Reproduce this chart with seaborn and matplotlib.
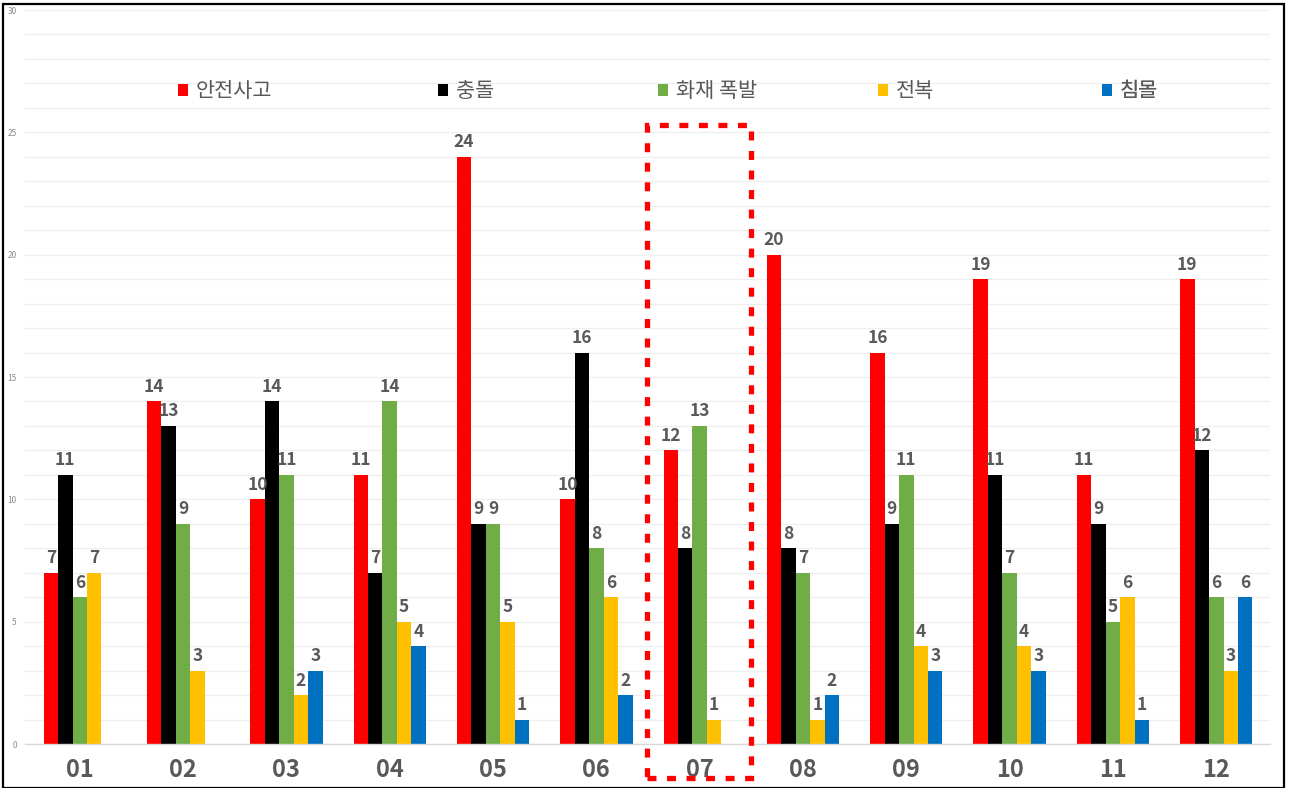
import matplotlib
matplotlib.use('Agg')
import matplotlib.pyplot as plt
import seaborn as sns
import pandas as pd
from matplotlib.patches import Rectangle
from matplotlib.ticker import MultipleLocator

months = ['01', '02', '03', '04', '05', '06', '07', '08', '09', '10', '11', '12']
series = ['안전사고', '충돌', '화재 폭발', '전복', '침몰']
safety = [7, 14, 10, 11, 24, 10, 12, 20, 16, 19, 11, 19]
collision = [11, 13, 14, 7, 9, 16, 8, 8, 9, 11, 9, 12]
fire = [6, 9, 11, 14, 9, 8, 13, 7, 11, 7, 5, 6]
capsize = [7, 3, 2, 5, 5, 6, 1, 1, 4, 4, 6, 3]
sinking = [0, 0, 3, 4, 1, 2, 0, 2, 3, 3, 1, 6]
colors = ['#FF0000', '#000000', '#70AD47', '#FFC000', '#0070C0']

values = [safety, collision, fire, capsize, sinking]
rows = []
for s, vals in zip(series, values):
    for m, v in zip(months, vals):
        rows.append({'month': m, 'type': s, 'count': v})
df = pd.DataFrame(rows)

sns.set_theme(style='white')
plt.rcParams['font.family'] = ['Noto Sans CJK KR', 'DejaVu Sans']

fig = plt.figure(figsize=(12.89, 7.88), dpi=100)
ax = fig.add_axes([25 / 1289, 1 - 744 / 788, 1245 / 1289, 734 / 788])

sns.barplot(data=df, x='month', y='count', hue='type', order=months,
            hue_order=series, palette=colors, width=0.70, gap=0,
            saturation=1, errorbar=None, ax=ax, legend=False,
            linewidth=0, edgecolor='none')

ax.set_ylim(0, 30)
ax.set_xlim(-0.53, 11.52)
ax.yaxis.set_major_locator(MultipleLocator(5))
ax.yaxis.set_minor_locator(MultipleLocator(1))
ax.grid(axis='y', which='both', color='#efefef', linewidth=0.9)
ax.set_axisbelow(True)
for sp in ['top', 'right', 'left']:
    ax.spines[sp].set_visible(False)
ax.spines['bottom'].set_color('#d9d9d9')
ax.spines['bottom'].set_linewidth(1.0)
ax.set_xlabel('')
ax.set_ylabel('')
ax.tick_params(axis='y', which='both', length=0, labelsize=6, labelcolor='#8c8c8c', pad=6)
ax.tick_params(axis='x', length=0, labelsize=17, labelcolor='#595959', pad=10)
for t in ax.get_xticklabels():
    t.set_fontweight('bold')

for c, vals in zip(ax.containers, values):
    labels = [str(v) if v > 0 else '' for v in vals]
    ax.bar_label(c, labels=labels, padding=4, fontsize=12.5, fontweight='bold',
                 color='#595959')

# legend entries spaced like the original
marker_x = [183, 443, 663, 883, 1107]
for c, lab, mx in zip(ax.containers, series, marker_x):
    leg = ax.legend(handles=[c], labels=[lab], loc='center left',
                    bbox_to_anchor=((mx - 5 - 25) / 1245, (744 - 91) / 734),
                    frameon=False, borderpad=0, borderaxespad=0,
                    handlelength=0.5, handleheight=0.5, handletextpad=0.35,
                    fontsize=15, labelcolor='#595959')
    ax.add_artist(leg)

# dashed highlight box around month 07
ax.add_patch(Rectangle((5.49, -1.39), 1.01, 26.7, fill=False,
                       edgecolor='#FF0000', linewidth=3.8,
                       linestyle=(0, (1.7, 2.0)), clip_on=False, zorder=5))

# figure border
fig.add_artist(Rectangle((3 / 1289, 0.0), 1281 / 1289, 784 / 788,
                         transform=fig.transFigure, fill=False,
                         edgecolor='black', linewidth=1.6))

fig.savefig('out.png', dpi=100)
